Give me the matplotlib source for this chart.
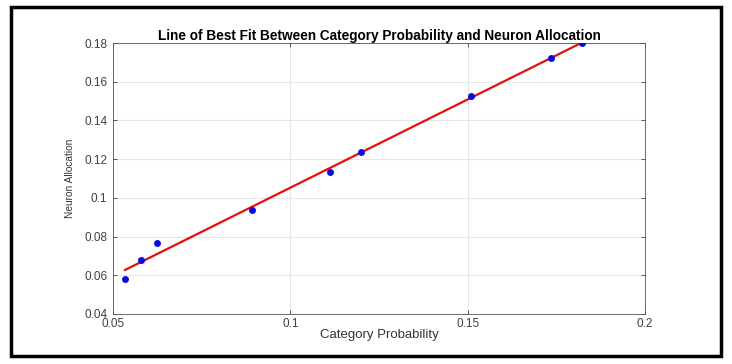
import matplotlib
matplotlib.use('Agg')
import numpy as np
import matplotlib.pyplot as plt
from matplotlib.patches import Rectangle

# Values
category_prob = [0.0534, 0.0578, 0.0623, 0.0891, 0.1112, 0.1199, 0.1509, 0.1734, 0.1822]
neuron_alloc = [0.0581, 0.0679, 0.0768, 0.0937, 0.1135, 0.1235, 0.1526, 0.1724, 0.1801]

x_ticks = [0.05, 0.1, 0.15, 0.2]
x_tick_labels = ['0.05', '0.1', '0.15', '0.2']
y_ticks = [0.04, 0.06, 0.08, 0.1, 0.12, 0.14, 0.16, 0.18]
y_tick_labels = ['0.04', '0.06', '0.08', '0.1', '0.12', '0.14', '0.16', '0.18']

plt.rcParams['font.family'] = ['Liberation Sans', 'DejaVu Sans']


def main():
    fig = plt.figure(figsize=(7.32, 3.64), dpi=100)
    W, H = 732, 364
    ax = fig.add_axes([113 / W, 1 - 314 / H, (645 - 113) / W, (314 - 43) / H])

    # Line of best fit
    x = np.array(category_prob)
    y = np.array(neuron_alloc)
    slope, intercept = np.polyfit(x, y, 1)
    fit_x = np.array([x.min(), x.max()])
    ax.plot(fit_x, slope * fit_x + intercept, color='#e01010', linewidth=1.6, zorder=2)
    ax.plot(x, y, 'o', color='#0a0ae0', markersize=5, markeredgewidth=0, zorder=3)

    ax.set_xlim(0.05, 0.2)
    ax.set_ylim(0.04, 0.18)
    ax.set_xticks(x_ticks)
    ax.set_xticklabels(x_tick_labels)
    ax.set_yticks(y_ticks)
    ax.set_yticklabels(y_tick_labels)
    ax.grid(True, color='#e6e6e6', linewidth=0.8)
    ax.set_axisbelow(True)
    ax.tick_params(direction='in', length=3, width=0.6, labelsize=8.5,
                   colors='#404040', top=True, right=True)
    ax.tick_params(axis='y', pad=4)
    ax.tick_params(axis='x', pad=3)
    for s in ax.spines.values():
        s.set_color('#555555')
        s.set_linewidth(0.6)

    ax.set_xlabel('Category Probability', fontsize=9.5, color='#333333', labelpad=-1)
    ax.set_ylabel('Neuron Allocation', fontsize=7.3, color='#333333', labelpad=7)
    ax.set_title('Line of Best Fit Between Category Probability and Neuron Allocation',
                 fontsize=9.8, fontweight='bold', pad=2)

    # Black frame around the whole figure
    fig.patches.append(Rectangle((11 / W, 1 - 356 / H), (721 - 11) / W, (356 - 7) / H,
                                 transform=fig.transFigure, fill=False,
                                 edgecolor='black', linewidth=2.5))

    fig.savefig('out.png', dpi=100)


if __name__ == "__main__":
    main()
